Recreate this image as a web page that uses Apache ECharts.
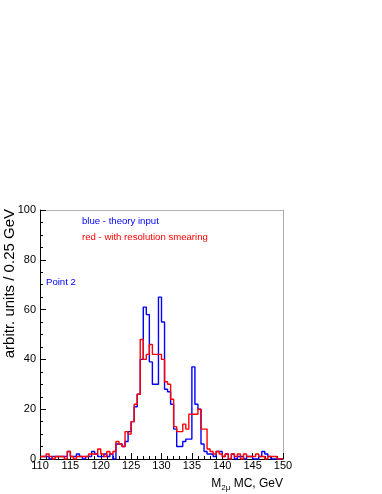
<!DOCTYPE html>
<html><head><meta charset="utf-8">
<script src="https://cdn.jsdelivr.net/npm/echarts@6/dist/echarts.min.js"></script>
<style>html,body{margin:0;padding:0;background:#fff}#c{width:382px;height:494px}</style>
</head><body><div id="c"></div>
<script>
// Histogram: 80 bins of 0.5 GeV from 110 to 150
const binStart = 110;
const binWidth = 0.5;
const blueValues = [1,1,1,0,1,1,1,1,1,3, 1,1,2,1,0,1,1,3,2,1, 1,2,1,2,0,6,6,5,7,11, 15,21,26,40,61,58,39,30,30,65, 55,28,27,22,12,5,5,7,8,8, 37,22,20,6,3,2,2,1,3,3, 1,2,0,2,0,1,1,0,1,1, 0,0,1,3,2,1,0,0,0,0];
const redValues  = [1,1,2,1,0,1,1,1,0,3, 1,0,1,1,1,1,2,2,2,4, 2,1,3,2,3,7,6,5,11,10, 15,22,26,48,40,42,46,42,42,42, 40,31,30,24,13,11,11,14,12,18, 18,18,20,12,12,4,3,2,3,2, 1,2,0,2,1,2,0,2,1,1, 1,2,1,1,0,1,1,1,0,0];
const xTicks = [110,115,120,125,130,135,140,145,150];
const yTicks = [0,20,40,60,80,100];

function toSteps(vals){
  const pts = vals.map((v,i)=>[binStart + i*binWidth, v]);
  pts.push([binStart + vals.length*binWidth, vals[vals.length-1]]);
  return pts;
}
const FONT = 'Liberation Sans, Arial, sans-serif';
const chart = echarts.init(document.getElementById('c'), null, {renderer:'canvas'});
chart.setOption({
  animation:false,
  backgroundColor:'#fff',
  grid:{left:40,right:99,top:210,bottom:35,containLabel:false},
  xAxis:[{
    type:'value', min:xTicks[0], max:xTicks[xTicks.length-1], interval:5,
    axisLine:{onZero:false,lineStyle:{color:'#000',width:1}},
    axisTick:{inside:true,length:6,lineStyle:{color:'#000'}},
    minorTick:{show:true,splitNumber:5,length:3,lineStyle:{color:'#000'}},
    splitLine:{show:false},
    axisLabel:{fontSize:11,color:'#000',fontFamily:FONT,margin:1}
  },{
    type:'value', position:'top', min:110, max:150,
    axisLine:{onZero:false,lineStyle:{color:'#b0b0b0',width:1}},
    axisTick:{show:false}, axisLabel:{show:false}, splitLine:{show:false}
  }],
  yAxis:[{
    type:'value', min:yTicks[0], max:yTicks[yTicks.length-1], interval:20,
    axisLine:{show:true,onZero:false,lineStyle:{color:'#000',width:1}},
    axisTick:{show:true,inside:true,length:6,lineStyle:{color:'#000'}},
    minorTick:{show:true,splitNumber:4,length:3,lineStyle:{color:'#000'}},
    splitLine:{show:false},
    axisLabel:{fontSize:11,color:'#000',fontFamily:FONT,margin:4}
  },{
    type:'value', position:'right', min:0, max:100,
    axisLine:{show:true,onZero:false,lineStyle:{color:'#b0b0b0',width:1}},
    axisTick:{show:false}, axisLabel:{show:false}, splitLine:{show:false}
  }],
  series:[{
    type:'line', step:'end', symbol:'none', data:toSteps(blueValues),
    lineStyle:{color:'#0000ff',width:1.4}, z:2
  },{
    type:'line', step:'end', symbol:'none', data:toSteps(redValues),
    lineStyle:{color:'#ff0000',width:1.4}, z:3
  }],
  graphic:[
    {type:'text',left:82,top:216,style:{text:'blue - theory input',fill:'#0000ff',font:'9.6px '+FONT}},
    {type:'text',left:82,top:232,style:{text:'red - with resolution smearing',fill:'#ff0000',font:'9.6px '+FONT}},
    {type:'text',left:46,top:277,style:{text:'Point 2',fill:'#0000ff',font:'9.6px '+FONT}},
    {type:'text',x:10,y:209,rotation:Math.PI/2,style:{text:'arbitr. units / 0.25 GeV',fill:'#000',font:'15px '+FONT,align:'right',verticalAlign:'middle'}},
    {type:'text',x:283,y:484,style:{
      text:'{m|M}{s|2μ}{m| MC, GeV}',align:'right',verticalAlign:'middle',
      rich:{m:{fontSize:12,fontFamily:FONT,fill:'#000',lineHeight:16,verticalAlign:'middle'},
            s:{fontSize:8,fontFamily:FONT,fill:'#000',lineHeight:16,verticalAlign:'bottom',padding:[6,0,0,0]}}}}
  ]
});
</script></body></html>
